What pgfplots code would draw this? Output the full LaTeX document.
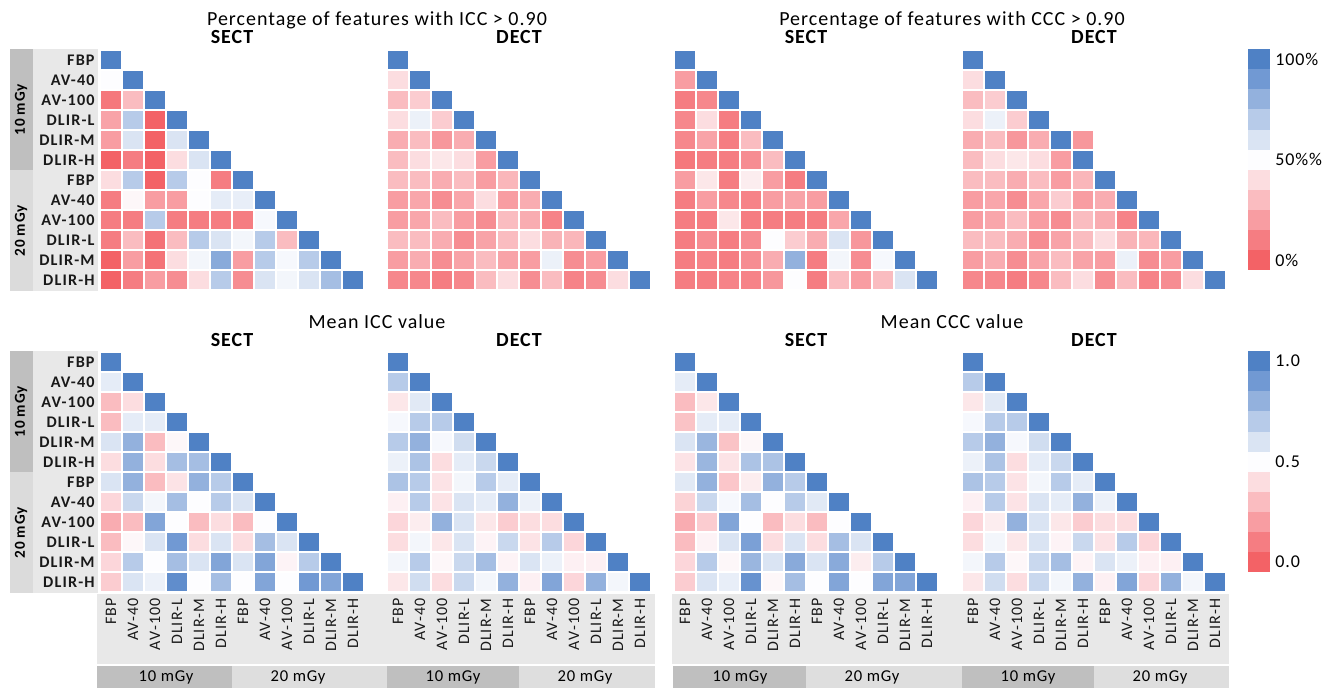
\documentclass[border=0pt]{standalone}
\usepackage{fontspec}
\setmainfont{Carlito}
\newfontfamily\cf{Carlito}[LetterSpace=5]
\newfontfamily\lf{Carlito}[LetterSpace=7]
\usepackage{pgfplots}
\pgfplotsset{compat=1.18}
\pgfdeclareplotmark{cell}{\pgfpathrectangle{\pgfpoint{-5.15pt}{-4.6pt}}{\pgfpoint{10.3pt}{9.2pt}}\pgfusepathqfill}
\pgfdeclareplotmark{cbcell}{\pgfpathrectangle{\pgfpoint{-5.5pt}{-5.1pt}}{\pgfpoint{11pt}{10.2pt}}\pgfusepathqfill}
\pgfplotsset{
  colormap={rb}{rgb255=(243,98,102) rgb255=(245,125,130) rgb255=(248,157,162) rgb255=(250,188,192) rgb255=(252,221,224) rgb255=(253,253,255) rgb255=(218,228,243) rgb255=(183,203,233) rgb255=(147,177,221) rgb255=(113,153,211) rgb255=(79,129,197)},
  hm/.style={anchor=north west, x=11pt, y=10pt, y dir=reverse, xmin=0.5,xmax=12.5,ymin=0.5,ymax=12.5,
    axis line style={draw=none}, major tick length=0pt, xtick=\empty, ytick=\empty, clip=false,
    colormap name=rb, point meta min=0, point meta max=10},
  rowlab/.style={ytick={1,...,12}, yticklabels={FBP,AV-40,AV-100,DLIR-L,DLIR-M,DLIR-H,FBP,AV-40,AV-100,DLIR-L,DLIR-M,DLIR-H},
    yticklabel style={anchor=east, inner sep=2.5pt, text=black!90, font=\lf\bfseries\fontsize{8.1}{9}\selectfont}},
  collab/.style={xtick={1,...,12}, xticklabels={FBP,AV-40,AV-100,DLIR-L,DLIR-M,DLIR-H,FBP,AV-40,AV-100,DLIR-L,DLIR-M,DLIR-H},
    xticklabel style={rotate=90, anchor=east, inner sep=3pt, text=black!90, font=\lf\fontsize{8}{9}\selectfont}},
  cells/.style={scatter, only marks, mark=cell, point meta=explicit, scatter/use mapped color={draw=mapped color, fill=mapped color}},
  cb/.style={anchor=north west, x=11pt, y=10.05pt, xmin=0.5, xmax=1.5, ymin=-0.5, ymax=10.5,
    axis line style={draw=none}, major tick length=0pt, xtick=\empty, ytick={0,5,10}, yticklabel pos=right,
    yticklabel style={anchor=west, inner sep=2.5pt, font=\cf\fontsize{9}{10}\selectfont},
    clip=false, colormap name=rb, point meta min=0, point meta max=10},
}
\begin{document}
\begin{tikzpicture}
\path[use as bounding box] (0,0) rectangle (661pt,344.5pt);
\begin{scope}[x=0.5pt,y=-0.5pt,yshift=344.5pt]
% left label boxes
\foreach \yo in {0,302}{
  \fill[black!9] (33,49+\yo) rectangle (98,291+\yo);
  \fill[black!25] (10,49+\yo) rectangle (33,170+\yo);
  \fill[black!14] (10,170+\yo) rectangle (33,291+\yo);
  \node[rotate=90, font=\cf\bfseries\fontsize{7.6}{8}\selectfont] at (21,110+\yo) {10 mGy};
  \node[rotate=90, font=\cf\bfseries\fontsize{7.6}{8}\selectfont] at (21,231+\yo) {20 mGy};
}
% bottom label bands
\fill[black!9] (97,594) rectangle (655,664);
\fill[black!9] (672,594) rectangle (1229,664);
\fill[black!25] (97,666) rectangle (232,688);
\fill[black!13] (232,666) rectangle (387,688);
\fill[black!25] (387,666) rectangle (519,688);
\fill[black!13] (519,666) rectangle (655,688);
\fill[black!25] (673,666) rectangle (806,688);
\fill[black!13] (806,666) rectangle (962,688);
\fill[black!25] (962,666) rectangle (1094,688);
\fill[black!13] (1094,666) rectangle (1229,688);
\foreach \cx/\t in {166/10 mGy,298/20 mGy,453/10 mGy,585/20 mGy,740/10 mGy,872/20 mGy,1028/10 mGy,1160/20 mGy}{
  \node[font=\cf\fontsize{8.3}{9}\selectfont] at (\cx,677) {\t};
}
% titles
\node[font=\cf\fontsize{10}{12}\selectfont] at (377,20) {Percentage of features with ICC > 0.90};
\node[font=\cf\fontsize{10}{12}\selectfont] at (952,20) {Percentage of features with CCC > 0.90};
\node[font=\cf\fontsize{10}{12}\selectfont] at (377,322) {Mean ICC value};
\node[font=\cf\fontsize{10}{12}\selectfont] at (952,322) {Mean CCC value};
\foreach \cx/\t in {232/SECT,519/DECT,806/SECT,1094/DECT}{
  \node[font=\cf\bfseries\fontsize{10}{12}\selectfont] at (\cx,37) {\t};
  \node[font=\cf\bfseries\fontsize{10}{12}\selectfont] at (\cx,340) {\t};
}
\end{scope}

% ---------- Panel 1: ICC>0.90 SECT
\begin{axis}[hm, rowlab, at={(50pt,319.5pt)}]
\addplot[cells] coordinates {
(1,1)[10]
(1,2)[5] (2,2)[10]
(1,3)[0.8] (2,3)[3] (3,3)[10]
(1,4)[2.2] (2,4)[7] (3,4)[0] (4,4)[10]
(1,5)[2] (2,5)[6] (3,5)[0] (4,5)[6] (5,5)[10]
(1,6)[0] (2,6)[1] (3,6)[0] (4,6)[4] (5,6)[6] (6,6)[10]
(1,7)[4] (2,7)[7] (3,7)[0] (4,7)[7] (5,7)[5] (6,7)[1] (7,7)[10]
(1,8)[1] (2,8)[4.8] (3,8)[2] (4,8)[2] (5,8)[5] (6,8)[5.7] (7,8)[5.6] (8,8)[10]
(1,9)[1] (2,9)[1] (3,9)[7] (4,9)[1] (5,9)[1] (6,9)[1] (7,9)[1] (8,9)[5.2] (9,9)[10]
(1,10)[1] (2,10)[3] (3,10)[0.6] (4,10)[3] (5,10)[7] (6,10)[6] (7,10)[5.3] (8,10)[7] (9,10)[3] (10,10)[10]
(1,11)[0] (2,11)[2] (3,11)[0.6] (4,11)[4] (5,11)[5.3] (6,11)[8.3] (7,11)[2] (8,11)[7] (9,11)[5.2] (10,11)[7] (11,11)[10]
(1,12)[0] (2,12)[1] (3,12)[2] (4,12)[1.5] (5,12)[4] (6,12)[7] (7,12)[1.5] (8,12)[6] (9,12)[5.3] (10,12)[6] (11,12)[7.5] (12,12)[10]
};
\end{axis}

% ---------- Panel 2: ICC>0.90 DECT
\begin{axis}[hm, at={(193.5pt,319.5pt)}]
\addplot[cells] coordinates {
(1,1)[10]
(1,2)[4] (2,2)[10]
(1,3)[3] (2,3)[3.5] (3,3)[10]
(1,4)[4] (2,4)[5.5] (3,4)[3.5] (4,4)[10]
(1,5)[2.5] (2,5)[3] (3,5)[1.8] (4,5)[2.5] (5,5)[10]
(1,6)[3] (2,6)[4] (3,6)[4.3] (4,6)[4] (5,6)[2] (6,6)[10]
(1,7)[3] (2,7)[3] (3,7)[2.5] (4,7)[3] (5,7)[2] (6,7)[2.8] (7,7)[10]
(1,8)[2] (2,8)[2.3] (3,8)[1.5] (4,8)[2.3] (5,8)[4] (6,8)[2] (7,8)[2.5] (8,8)[10]
(1,9)[2] (2,9)[2.3] (3,9)[3] (4,9)[2] (5,9)[1.5] (6,9)[3] (7,9)[2.5] (8,9)[1.2] (9,9)[10]
(1,10)[3] (2,10)[3] (3,10)[2.5] (4,10)[1.5] (5,10)[2.2] (6,10)[3] (7,10)[4] (8,10)[2.7] (9,10)[2.8] (10,10)[10]
(1,11)[2] (2,11)[2.5] (3,11)[1.5] (4,11)[2.2] (5,11)[3] (6,11)[2.2] (7,11)[2] (8,11)[5.5] (9,11)[1.5] (10,11)[2] (11,11)[10]
(1,12)[1.3] (2,12)[1.3] (3,12)[1] (4,12)[1.3] (5,12)[3] (6,12)[4] (7,12)[1.5] (8,12)[3] (9,12)[1.2] (10,12)[1.5] (11,12)[4] (12,12)[10]
};
\end{axis}

% ---------- Panel 3: CCC>0.90 SECT
\begin{axis}[hm, at={(337pt,319.5pt)}]
\addplot[cells] coordinates {
(1,1)[10]
(1,2)[2] (2,2)[10]
(1,3)[1] (2,3)[1.3] (3,3)[10]
(1,4)[1.3] (2,4)[4] (3,4)[1] (4,4)[10]
(1,5)[1.3] (2,5)[2.2] (3,5)[1] (4,5)[3] (5,5)[10]
(1,6)[0.8] (2,6)[1] (3,6)[1] (4,6)[1.5] (5,6)[3] (6,6)[10]
(1,7)[2] (2,7)[4.3] (3,7)[1] (4,7)[4.5] (5,7)[2] (6,7)[1] (7,7)[10]
(1,8)[1] (2,8)[2] (3,8)[1.3] (4,8)[1.2] (5,8)[2] (6,8)[2.2] (7,8)[2] (8,8)[10]
(1,9)[1] (2,9)[1] (3,9)[4.3] (4,9)[1] (5,9)[1] (6,9)[1] (7,9)[1] (8,9)[2.3] (9,9)[10]
(1,10)[1] (2,10)[1.5] (3,10)[1] (4,10)[1.5] (5,10)[5] (6,10)[3.5] (7,10)[2.5] (8,10)[6] (9,10)[1.8] (10,10)[10]
(1,11)[1] (2,11)[1.2] (3,11)[1] (4,11)[1.5] (5,11)[2.5] (6,11)[8] (7,11)[1] (8,11)[5.3] (9,11)[1.5] (10,11)[5.2] (11,11)[10]
(1,12)[1] (2,12)[1] (3,12)[1.2] (4,12)[1.2] (5,12)[1.8] (6,12)[5] (7,12)[1] (8,12)[3] (9,12)[2] (10,12)[3] (11,12)[6] (12,12)[10]
};
\end{axis}

% ---------- Panel 4: CCC>0.90 DECT
\begin{axis}[hm, at={(481pt,319.5pt)}]
\addplot[cells] coordinates {
(1,1)[10]
(1,2)[4] (2,2)[10]
(1,3)[3] (2,3)[3.5] (3,3)[10]
(1,4)[4] (2,4)[5.5] (3,4)[3.5] (4,4)[10]
(1,5)[2.5] (2,5)[3] (3,5)[1.8] (4,5)[2.5] (5,5)[10] (6,5)[1.8]
(1,6)[3] (2,6)[4] (3,6)[4.3] (4,6)[4] (5,6)[2] (6,6)[10]
(1,7)[3] (2,7)[3] (3,7)[2.5] (4,7)[3] (5,7)[2] (6,7)[2.8] (7,7)[10]
(1,8)[2] (2,8)[2.3] (3,8)[1.5] (4,8)[2.3] (5,8)[3.5] (6,8)[2] (7,8)[2.5] (8,8)[10]
(1,9)[2] (2,9)[2.3] (3,9)[3] (4,9)[2] (5,9)[1.5] (6,9)[3] (7,9)[2.5] (8,9)[1.2] (9,9)[10]
(1,10)[3] (2,10)[3] (3,10)[2.5] (4,10)[1.5] (5,10)[2.2] (6,10)[3] (7,10)[4] (8,10)[2.7] (9,10)[2.8] (10,10)[10]
(1,11)[2] (2,11)[2.5] (3,11)[1.5] (4,11)[2.2] (5,11)[3] (6,11)[2.2] (7,11)[2] (8,11)[5.5] (9,11)[1.5] (10,11)[2] (11,11)[10]
(1,12)[1.3] (2,12)[1.3] (3,12)[1] (4,12)[1.3] (5,12)[3] (6,12)[4] (7,12)[1.5] (8,12)[3] (9,12)[1.2] (10,12)[1.5] (11,12)[4] (12,12)[10]
};
\end{axis}

% ---------- Panel 5: Mean ICC SECT
\begin{axis}[hm, rowlab, collab, at={(50pt,168.5pt)}]
\addplot[cells] coordinates {
(1,1)[10]
(1,2)[5.7] (2,2)[10]
(1,3)[3] (2,3)[4] (3,3)[10]
(1,4)[3] (2,4)[5.7] (3,4)[5.7] (4,4)[10]
(1,5)[6] (2,5)[8] (3,5)[3] (4,5)[4.8] (5,5)[10]
(1,6)[4] (2,6)[8] (3,6)[4] (4,6)[7.5] (5,6)[7.5] (6,6)[10]
(1,7)[6] (2,7)[8] (3,7)[3] (4,7)[4.2] (5,7)[8] (6,7)[7] (7,7)[10]
(1,8)[3.8] (2,8)[6.5] (3,8)[5.3] (4,8)[7.5] (5,8)[5] (6,8)[7] (7,8)[6] (8,8)[10]
(1,9)[2.5] (2,9)[3] (3,9)[8.5] (4,9)[5] (5,9)[3] (6,9)[4] (7,9)[3] (8,9)[5] (9,9)[10]
(1,10)[3] (2,10)[4.8] (3,10)[6] (4,10)[9] (5,10)[4] (6,10)[6] (7,10)[4] (8,10)[7.5] (9,10)[6] (10,10)[10]
(1,11)[3.8] (2,11)[7] (3,11)[5] (4,11)[7.5] (5,11)[6] (6,11)[8.5] (7,11)[6] (8,11)[8.5] (9,11)[4.7] (10,11)[7] (11,11)[10]
(1,12)[3.5] (2,12)[6] (3,12)[5.5] (4,12)[9.5] (5,12)[5] (6,12)[7.5] (7,12)[5] (8,12)[8.5] (9,12)[5] (10,12)[9] (11,12)[8.5] (12,12)[10]
};
\end{axis}

% ---------- Panel 6: Mean ICC DECT
\begin{axis}[hm, collab, at={(193.5pt,168.5pt)}]
\addplot[cells] coordinates {
(1,1)[10]
(1,2)[7] (2,2)[10]
(1,3)[4.3] (2,3)[5.8] (3,3)[10]
(1,4)[5.2] (2,4)[7] (3,4)[7] (4,4)[10]
(1,5)[7] (2,5)[8] (3,5)[5.2] (4,5)[6.3] (5,5)[10]
(1,6)[5.5] (2,6)[7.3] (3,6)[4] (4,6)[5.7] (5,6)[6.5] (6,6)[10]
(1,7)[7.3] (2,7)[7] (3,7)[4.2] (4,7)[5.3] (5,7)[7] (6,7)[5.7] (7,7)[10]
(1,8)[4.6] (2,8)[7] (3,8)[4.2] (4,8)[6] (5,8)[5.7] (6,8)[8] (7,8)[5.5] (8,8)[10]
(1,9)[3.8] (2,9)[4.5] (3,9)[8] (4,9)[6] (5,9)[4.3] (6,9)[3.5] (7,9)[4] (8,9)[4] (9,9)[10]
(1,10)[4] (2,10)[5.3] (3,10)[4.3] (4,10)[6] (5,10)[4.7] (6,10)[6.5] (7,10)[4.2] (8,10)[7] (9,10)[3.8] (10,10)[10]
(1,11)[5.3] (2,11)[7] (3,11)[4.8] (4,11)[6.5] (5,11)[7.5] (6,11)[4.7] (7,11)[6] (8,11)[5.5] (9,11)[4.6] (10,11)[4.6] (11,11)[10]
(1,12)[4.3] (2,12)[6.3] (3,12)[4] (4,12)[6.5] (5,12)[5.3] (6,12)[8] (7,12)[4.6] (8,12)[8.5] (9,12)[3.8] (10,12)[8] (11,12)[5.3] (12,12)[10]
};
\end{axis}

% ---------- Panel 7: Mean CCC SECT
\begin{axis}[hm, collab, at={(337pt,168.5pt)}]
\addplot[cells] coordinates {
(1,1)[10]
(1,2)[5.7] (2,2)[10]
(1,3)[3] (2,3)[4.3] (3,3)[10]
(1,4)[3.2] (2,4)[5.7] (3,4)[5.7] (4,4)[10]
(1,5)[6] (2,5)[7.8] (3,5)[3.2] (4,5)[4.8] (5,5)[10]
(1,6)[4.2] (2,6)[7.8] (3,6)[4.2] (4,6)[7.3] (5,6)[7.3] (6,6)[10]
(1,7)[5.8] (2,7)[8] (3,7)[3.3] (4,7)[4.5] (5,7)[8] (6,7)[7] (7,7)[10]
(1,8)[3.7] (2,8)[6.5] (3,8)[5.2] (4,8)[7.5] (5,8)[5] (6,8)[7] (7,8)[5.8] (8,8)[10]
(1,9)[2.5] (2,9)[3.5] (3,9)[8.5] (4,9)[5] (5,9)[3] (6,9)[4] (7,9)[3] (8,9)[5] (9,9)[10]
(1,10)[3] (2,10)[4.7] (3,10)[6] (4,10)[8.7] (5,10)[4] (6,10)[6] (7,10)[4] (8,10)[7.5] (9,10)[6] (10,10)[10]
(1,11)[3.8] (2,11)[7] (3,11)[4.8] (4,11)[7.8] (5,11)[6] (6,11)[8.3] (7,11)[6] (8,11)[8.3] (9,11)[4.5] (10,11)[7] (11,11)[10]
(1,12)[3.5] (2,12)[6] (3,12)[5.6] (4,12)[9.3] (5,12)[4.8] (6,12)[7.5] (7,12)[5] (8,12)[8.5] (9,12)[5] (10,12)[8.5] (11,12)[8.5] (12,12)[10]
};
\end{axis}

% ---------- Panel 8: Mean CCC DECT
\begin{axis}[hm, collab, at={(481pt,168.5pt)}]
\addplot[cells] coordinates {
(1,1)[10]
(1,2)[7] (2,2)[10]
(1,3)[4.3] (2,3)[5.8] (3,3)[10]
(1,4)[5.2] (2,4)[7] (3,4)[7] (4,4)[10]
(1,5)[7] (2,5)[8] (3,5)[5.2] (4,5)[6.3] (5,5)[10]
(1,6)[5.5] (2,6)[7.3] (3,6)[4] (4,6)[5.7] (5,6)[6.5] (6,6)[10]
(1,7)[7.3] (2,7)[7] (3,7)[4.2] (4,7)[5.3] (5,7)[7] (6,7)[5.7] (7,7)[10]
(1,8)[4.6] (2,8)[7] (3,8)[4.2] (4,8)[6] (5,8)[5.7] (6,8)[8] (7,8)[5.5] (8,8)[10]
(1,9)[3.8] (2,9)[4.5] (3,9)[8] (4,9)[6] (5,9)[4.3] (6,9)[3.5] (7,9)[4] (8,9)[4] (9,9)[10]
(1,10)[4] (2,10)[5.3] (3,10)[4.3] (4,10)[6] (5,10)[4.7] (6,10)[6.5] (7,10)[4.2] (8,10)[7] (9,10)[3.8] (10,10)[10]
(1,11)[5.3] (2,11)[7] (3,11)[4.8] (4,11)[6.5] (5,11)[7.5] (6,11)[4.7] (7,11)[6] (8,11)[5.5] (9,11)[4.6] (10,11)[4.6] (11,11)[10]
(1,12)[4.3] (2,12)[6.3] (3,12)[4] (4,12)[6.5] (5,12)[5.3] (6,12)[8] (7,12)[4.6] (8,12)[8.5] (9,12)[3.8] (10,12)[8] (11,12)[5.3] (12,12)[10]
};
\end{axis}

% ---------- colour bars
\begin{axis}[cb, at={(624pt,320pt)}, yticklabels={0\%,50\%\%,100\%}]
\addplot[scatter, only marks, mark=cbcell, point meta=explicit, scatter/use mapped color={draw=mapped color, fill=mapped color}] coordinates {
(1,0)[0] (1,1)[1] (1,2)[2] (1,3)[3] (1,4)[4] (1,5)[5] (1,6)[6] (1,7)[7] (1,8)[8] (1,9)[9] (1,10)[10]};
\end{axis}
\begin{axis}[cb, at={(624pt,169pt)}, yticklabels={0.0,0.5,1.0}]
\addplot[scatter, only marks, mark=cbcell, point meta=explicit, scatter/use mapped color={draw=mapped color, fill=mapped color}] coordinates {
(1,0)[0] (1,1)[1] (1,2)[2] (1,3)[3] (1,4)[4] (1,5)[5] (1,6)[6] (1,7)[7] (1,8)[8] (1,9)[9] (1,10)[10]};
\end{axis}
\end{tikzpicture}
\end{document}
